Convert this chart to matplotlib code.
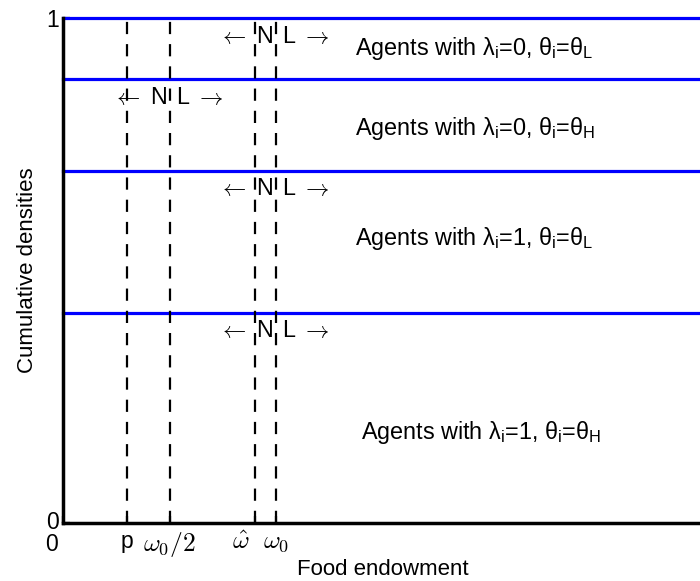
import matplotlib.pyplot as plt
from matplotlib.transforms import ScaledTranslation

plt.rcParams['font.family'] = ['Liberation Sans', 'DejaVu Sans']
plt.rcParams['mathtext.fontset'] = 'cm'

# thresholds on the food endowment axis
thresholds = [1.0, 1.67, 3.0, 3.33]
threshold_labels = ['p', r'$\omega_0/2$', r'$\hat{\omega}$', r'$\omega_0$']

# cumulative density where each group of agents ends
boundaries = [0.416, 0.697, 0.879, 1.0]

# group labels, bottom to top
groups = [r'Agents with $\mathregular{λ_i}$=1, $\mathregular{θ_i}$=$\mathregular{θ_H}$',
          r'Agents with $\mathregular{λ_i}$=1, $\mathregular{θ_i}$=$\mathregular{θ_L}$',
          r'Agents with $\mathregular{λ_i}$=0, $\mathregular{θ_i}$=$\mathregular{θ_H}$',
          r'Agents with $\mathregular{λ_i}$=0, $\mathregular{θ_i}$=$\mathregular{θ_L}$']
group_x = [4.66, 4.56, 4.56, 4.56]
group_y = [0.18, 0.564, 0.782, 0.94]

# where each group switches from N to L
switch_x = [3.33, 3.33, 1.67, 3.33]
switch_y = [0.382, 0.663, 0.842, 0.964]

fig = plt.figure(figsize=(7, 5.81), dpi=100)
ax = fig.add_axes([63/700, 58/581, 640/700, 505/581])

for b in boundaries:
    ax.axhline(b, color='#0000ff', lw=2.3, zorder=2, clip_on=False)

for t in thresholds:
    ax.axvline(t, color='black', lw=1.6, dashes=(5.5, 4.5), zorder=3)

fs = 16.8
for x, y, s in zip(group_x, group_y, groups):
    ax.text(x, y, s, fontsize=fs, va='center', ha='left')

for x, y in zip(switch_x, switch_y):
    ax.text(x - 0.05, y, r'$\leftarrow$ N', fontsize=fs, va='center', ha='right')
    ax.text(x + 0.09, y, r'L $\rightarrow$', fontsize=fs, va='center', ha='left')

ax.set_xlim(0, 10)
ax.set_ylim(0, 1)
ax.set_xticks([0] + thresholds)
ax.set_xticklabels(['0'] + threshold_labels)
ax.set_yticks([0, 1])
ax.set_yticklabels(['0', '1'])
ax.tick_params(direction='in', length=5, width=1.6, labelsize=16.5, pad=3)
ax.tick_params(axis='x', pad=5)
xlabels = ax.get_xticklabels()
for lab in xlabels[2:]:
    lab.set_fontsize(18.5)
xlabels[0].set_transform(
    xlabels[0].get_transform() + ScaledTranslation(-0.11, -0.03, fig.dpi_scale_trans))
xlabels[3].set_transform(
    xlabels[3].get_transform() + ScaledTranslation(-0.14, 0, fig.dpi_scale_trans))
ylabels = ax.get_yticklabels()
ylabels[0].set_transform(
    ylabels[0].get_transform() + ScaledTranslation(0, 0.03, fig.dpi_scale_trans))

for side in ['left', 'bottom']:
    ax.spines[side].set_linewidth(2.5)
ax.spines['top'].set_visible(False)
ax.spines['right'].set_visible(False)

ax.set_xlabel('Food endowment', fontsize=16, labelpad=0)
ax.set_ylabel('Cumulative densities', fontsize=16, labelpad=6)

plt.savefig('out.png', dpi=100)
